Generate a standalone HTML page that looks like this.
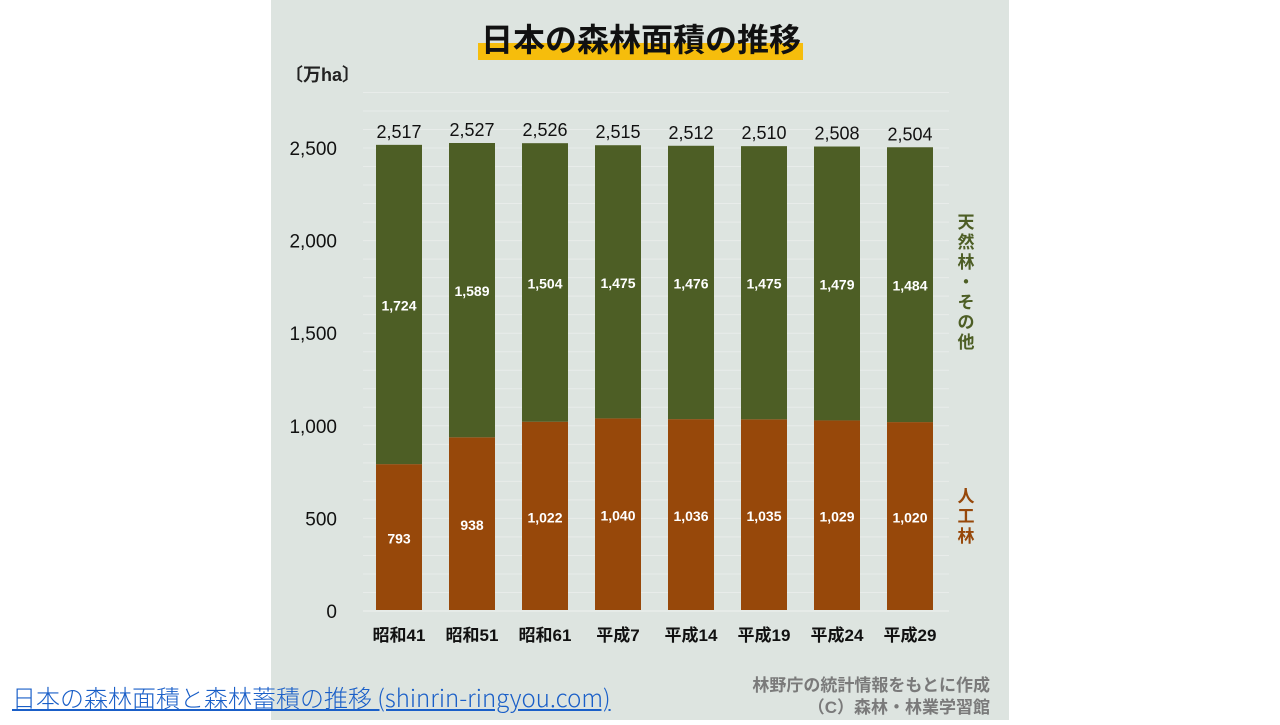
<!DOCTYPE html>
<html><head><meta charset="utf-8"><style>
body{margin:0;width:1280px;height:720px;background:#fff;position:relative;overflow:hidden;font-family:"Liberation Sans","Noto Sans CJK JP",sans-serif}
#panel{position:absolute;left:271px;top:0;width:738px;height:720px;background:#dde4e0}
#link{position:absolute;left:12px;top:679px;font-size:24px;color:#1a5fc8;text-decoration:underline;font-family:"Noto Sans CJK JP",sans-serif;font-weight:300;white-space:nowrap}
</style></head><body>
<div id="panel">
<svg id="chart" width="738" height="720"></svg>
</div>
<a id="link">日本の森林面積と森林蓄積の推移 (shinrin-ringyou.com)</a>
<script>
const categories=["昭和41","昭和51","昭和61","平成7","平成14","平成19","平成24","平成29"];
const planted=[793,938,1022,1040,1036,1035,1029,1020];
const natural=[1724,1589,1504,1475,1476,1475,1479,1484];
const totals=[2517,2527,2526,2515,2512,2510,2508,2504];
const yTicks=[0,500,1000,1500,2000,2500];
const NS="http://www.w3.org/2000/svg";
const svg=document.getElementById('chart');
const y0=611,scale=463/2500;
const y=v=>y0-v*scale;
const x=i=>128+i*73;
const F='"Liberation Sans","Noto Sans CJK JP",sans-serif';
function el(t,a,txt){const e=document.createElementNS(NS,t);for(const k in a)e.setAttribute(k,a[k]);if(txt!==undefined)e.textContent=txt;svg.appendChild(e);return e;}
for(let v=0;v<=2500+300;v+=100){const g=el('line',{x1:92,x2:678,y1:y(v),y2:y(v),stroke:'#e8ecea','stroke-width':1});

}
const hl=el('rect',{x:207,y:43,width:325,height:17,fill:'#f6bd0c'});


const t=el('text',{x:370,y:51,'text-anchor':'middle','font-size':32,'font-weight':'bold',fill:'#111','font-family':F},'日本の森林面積の推移');


const u=el('text',{x:14,y:81,'font-size':18,'font-weight':'bold',fill:'#222','font-family':F},'〔万ha〕');


yTicks.forEach(v=>{const e=el('text',{x:66,y:y(v)+7,'text-anchor':'end','font-size':19,fill:'#111','font-family':F},v.toLocaleString('en-US'));

});
categories.forEach((c,i)=>{
 const cx=x(i),w=46;
 const b1=el('rect',{x:cx-w/2,y:y(planted[i]),width:w,height:planted[i]*scale,fill:'#97480a'});
 
 
 const b2=el('rect',{x:cx-w/2,y:y(totals[i]),width:w,height:(totals[i]-planted[i])*scale,fill:'#4d5e25'});
 
 
 const l1=el('text',{x:cx,y:(y(0)+y(planted[i]))/2+6,'text-anchor':'middle','font-size':14,'font-weight':'bold',fill:'#fff','font-family':F},planted[i].toLocaleString('en-US'));
 
 
 const l2=el('text',{x:cx,y:(y(planted[i])+y(totals[i]))/2+6,'text-anchor':'middle','font-size':14,'font-weight':'bold',fill:'#fff','font-family':F},natural[i].toLocaleString('en-US'));
 
 
 const l3=el('text',{x:cx,y:y(totals[i])-7,'text-anchor':'middle','font-size':18,fill:'#111','font-family':F},totals[i].toLocaleString('en-US'));
 
 
 const l4=el('text',{x:cx,y:641,'text-anchor':'middle','font-size':17,'font-weight':'bold',fill:'#111','font-family':F},c);
 
 
});
const ax=el('line',{x1:92,x2:678,y1:y0,y2:y0,stroke:'#e6ebe8','stroke-width':2});


function vtext(s,x0,ys,color,name){s.split('').forEach((ch,k)=>{const e=el('text',{x:x0,y:ys+k*20,'text-anchor':'middle','font-size':17,'font-weight':'bold',fill:color,'font-family':F},ch);

});}
vtext('天然林・その他',695,228,'#4d5e25','legend-natural');
vtext('人工林',695,502,'#97480a','legend-planted');
const s1=el('text',{x:719,y:691,'text-anchor':'end','font-size':17,'font-weight':'bold',fill:'#7a7a7a','font-family':F},'林野庁の統計情報をもとに作成');


const s2=el('text',{x:719,y:713,'text-anchor':'end','font-size':17,'font-weight':'bold',fill:'#7a7a7a','font-family':F},'（C）森林・林業学習館');


</script>
</body></html>
